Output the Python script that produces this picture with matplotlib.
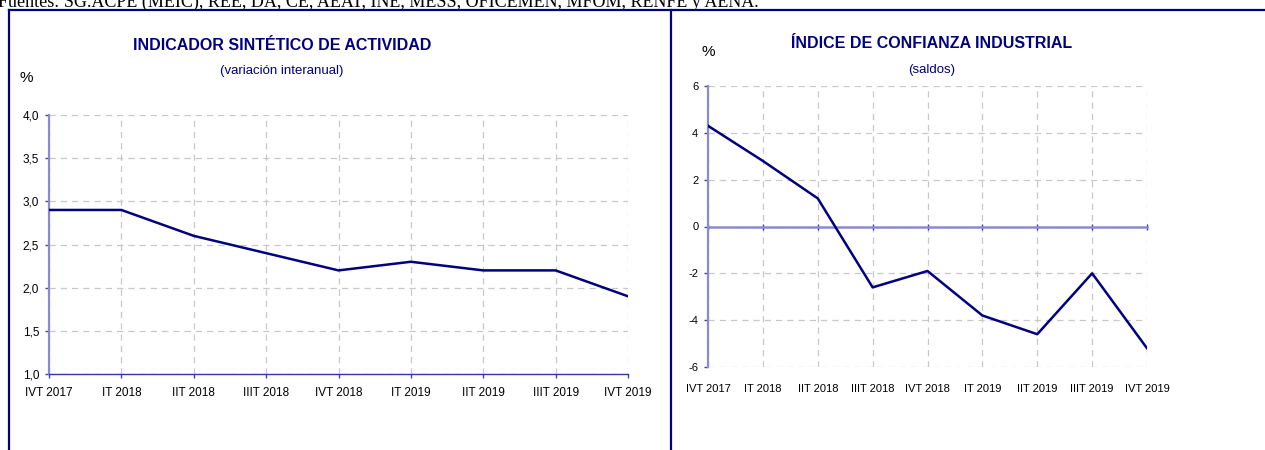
'''
Two quarterly indicator panels: ISA and industrial confidence index
'''
import matplotlib
matplotlib.use('Agg')
import matplotlib.pyplot as plt
from matplotlib.lines import Line2D
import numpy as np

plt.rcParams['font.family'] = ['Liberation Sans', 'DejaVu Sans']

# data
quarters = ['IVT 2017', 'IT 2018', 'IIT 2018', 'IIIT 2018', 'IVT 2018',
            'IT 2019', 'IIT 2019', 'IIIT 2019', 'IVT 2019']
isa_values = [2.9, 2.9, 2.6, 2.4, 2.2, 2.3, 2.2, 2.2, 1.9]
ici_values = [4.3, 2.8, 1.2, -2.6, -1.9, -3.8, -4.6, -2.0, -5.2]
isa_ticks = [1.0, 1.5, 2.0, 2.5, 3.0, 3.5, 4.0]
ici_ticks = [-6, -4, -2, 0, 2, 4, 6]
source_text = 'Fuentes: SG.ACPE (MEIC), REE, DA, CE, AEAT, INE, MESS, OFICEMEN, MFOM, RENFE y AENA.'

W, H = 1265, 450
navy = '#000080'
spine_col = '#8a8ad0'
grid_col = '#c8c8c8'

fig = plt.figure(figsize=(W / 100, H / 100), dpi=100)


def px(x, y):
    # pixel (from top-left) to figure fraction
    return x / W, 1 - y / H


# source line along the top edge (cut by the page edge, as in the original)
fig.text(*px(-2, 7), source_text, family=['Liberation Serif'], fontsize=13,
         ha='left', va='baseline', color='black')

# panel frames
frame_kw = dict(color=navy, lw=1.6, transform=fig.transFigure)
for xs, ys in [([9, 9], [10, 460]), ([9, 1270], [10, 10]), ([671, 671], [10, 460])]:
    fx = [v / W for v in xs]
    fy = [1 - v / H for v in ys]
    fig.add_artist(Line2D(fx, fy, **frame_kw))

x = np.arange(len(quarters))

# ---- left panel: indicador sintetico de actividad
l0, r0 = px(49, 374)[0], px(628, 374)[0]
ax1 = fig.add_axes([l0, 1 - 374 / H, r0 - l0, (374 - 115) / H])
ax1.plot(x, isa_values, color=navy, lw=1.8, zorder=3)
ax1.set_xlim(0, len(quarters) - 1)
ax1.set_ylim(isa_ticks[0], isa_ticks[-1])
ax1.set_xticks(x)
ax1.set_xticklabels(quarters, fontsize=8.5)
ax1.set_yticks(isa_ticks)
ax1.set_yticklabels(['{:.1f}'.format(v).replace('.', ',') for v in isa_ticks], fontsize=8.5)
ax1.grid(True, color=grid_col, ls=(0, (5, 4)), lw=0.9)
for s in ['top', 'right']:
    ax1.spines[s].set_visible(False)
ax1.spines['left'].set_color(spine_col)
ax1.spines['left'].set_linewidth(1.6)
ax1.spines['bottom'].set_color('#3535a8')
ax1.spines['bottom'].set_linewidth(1.0)
ax1.tick_params(axis='both', length=3, width=1, color='#4040b0', pad=4)
ax1.tick_params(axis='x', pad=6)

fig.text(*px(282, 45), 'INDICADOR SINTÉTICO DE ACTIVIDAD', fontsize=11.5,
         fontweight='bold', color=navy, ha='center', va='center')
fig.text(*px(282, 71), '(variación interanual)', fontsize=9.5,
         color=navy, ha='center', va='center')
fig.text(*px(26, 78), '%', fontsize=11, ha='center', va='center')

# ---- right panel: indice de confianza industrial
l1, r1 = px(708, 367)[0], px(1147, 367)[0]
ax2 = fig.add_axes([l1, 1 - 367 / H, r1 - l1, (367 - 86) / H])
ax2.plot(x, ici_values, color=navy, lw=1.8, zorder=3)
ax2.set_xlim(0, len(quarters) - 1)
ax2.set_ylim(ici_ticks[0], ici_ticks[-1])
ax2.set_xticks(x)
ax2.tick_params(axis='x', labelbottom=False, direction='inout', length=4,
                width=1, color='#3535a8')
ax2.set_yticks(ici_ticks)
ax2.set_yticklabels([str(v) for v in ici_ticks], fontsize=8)
ax2.tick_params(axis='y', length=3, width=1, color='#4040b0', pad=4)
ax2.grid(True, color=grid_col, ls=(0, (5, 4)), lw=0.9)
for s in ['top', 'right']:
    ax2.spines[s].set_visible(False)
ax2.spines['left'].set_color(spine_col)
ax2.spines['left'].set_linewidth(1.6)
ax2.spines['bottom'].set_position(('data', 0))
ax2.spines['bottom'].set_color(spine_col)
ax2.spines['bottom'].set_linewidth(1.8)
ax2.spines['bottom'].set_zorder(2)

sec = ax2.secondary_xaxis(0)
sec.set_xticks(x)
sec.set_xticklabels(quarters, fontsize=8)
sec.spines['bottom'].set_visible(False)
sec.tick_params(length=0, pad=12)

fig.text(*px(932, 44), 'ÍNDICE DE CONFIANZA INDUSTRIAL', fontsize=11.5,
         fontweight='bold', color=navy, ha='center', va='center')
fig.text(*px(932, 70), '(saldos)', fontsize=9.5,
         color=navy, ha='center', va='center')
fig.text(*px(708, 52), '%', fontsize=11, ha='center', va='center')

fig.savefig('out.png', dpi=100)
